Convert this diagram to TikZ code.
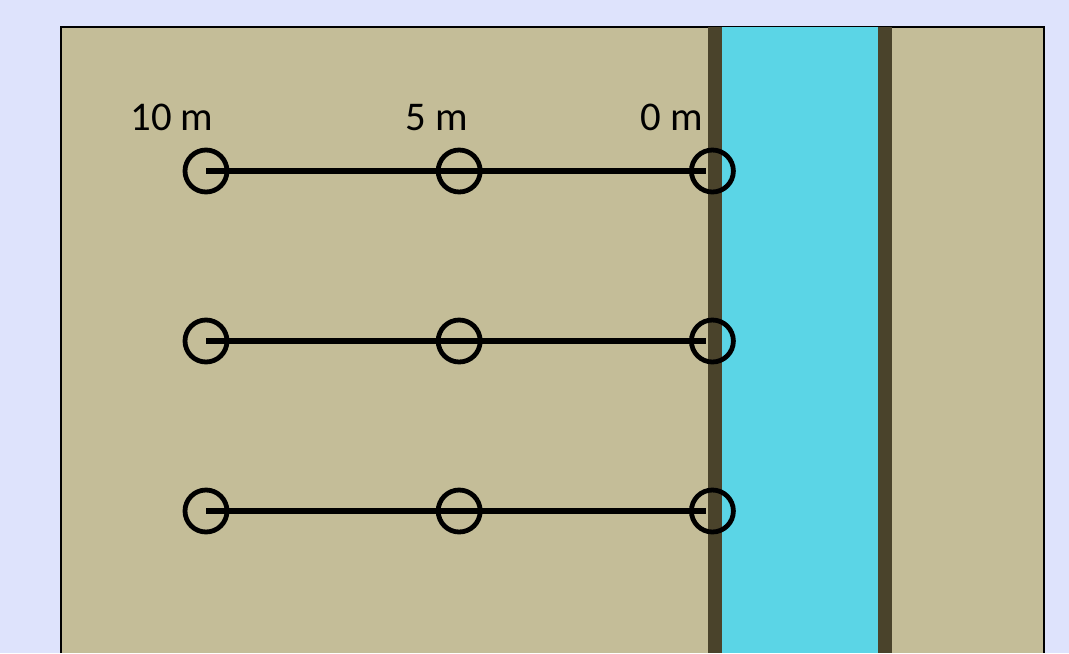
\documentclass[tikz,border=0pt]{standalone}
\usepackage{fontspec}
\setmainfont{Carlito}
\usetikzlibrary{positioning}

\definecolor{sky}{RGB}{222,227,252}
\definecolor{soil}{RGB}{196,189,152}
\definecolor{water}{RGB}{91,213,230}
\definecolor{mud}{RGB}{74,67,43}

\begin{document}
\begin{tikzpicture}[
    on grid,
    stake/.style={
      circle, draw=black, line width=0.12cm,
      minimum size=1.05cm, inner sep=0pt
    },
    tape/.style={line width=0.17cm, shorten >=0.17cm},
    bank/.style={draw=mud, line width=0.35cm},
    dist/.style={font=\fontsize{29}{34}\selectfont, anchor=base, inner sep=0pt},
  ]

  % Page and field
  \fill[sky] (0,0) rectangle (26.725,-16.325);
  \useasboundingbox (0,0) rectangle (26.725,-16.325);
  \fill[soil] (1.525,-0.675) rectangle (26.1,-16.325);
  \draw[line width=1.4pt] (1.525,-16.325) |- (26.1,-0.675) -- (26.1,-16.325);

  % River with its two banks
  \fill[water] (17.875,-0.675) rectangle (22.125,-16.325);
  \draw[bank] (17.875,-0.675) -- (17.875,-16.325);
  \draw[bank] (22.125,-0.675) -- (22.125,-16.325);

  % Stakes (three transects)
  \node[stake] (c10a) at (5.15,-4.275) {};
  \node[stake, right=6.33cm of c10a] (c5a) {};
  \node[stake, right=6.33cm of c5a] (c0a) {};
  \node[stake, below=4.25cm of c10a] (c10b) {};
  \node[stake, right=6.33cm of c10b] (c5b) {};
  \node[stake, right=6.33cm of c5b] (c0b) {};
  \node[stake, below=4.25cm of c10b] (c10c) {};
  \node[stake, right=6.33cm of c10c] (c5c) {};
  \node[stake, right=6.33cm of c5c] (c0c) {};

  % Transect lines
  \draw[tape] (c10a.center) -- (c5a.center) -- (c0a.center);
  \draw[tape] (c10b.center) -- (c5b.center) -- (c0b.center);
  \draw[tape] (c10c.center) -- (c5c.center) -- (c0c.center);

  % Distance labels
  \node[dist] (l10) at (4.3,-3.25) {10 m};
  \node[dist] (l5) at (10.925,-3.25) {5 m};
  \node[dist] (l0) at (16.8,-3.25) {0 m};

\end{tikzpicture}
\end{document}
